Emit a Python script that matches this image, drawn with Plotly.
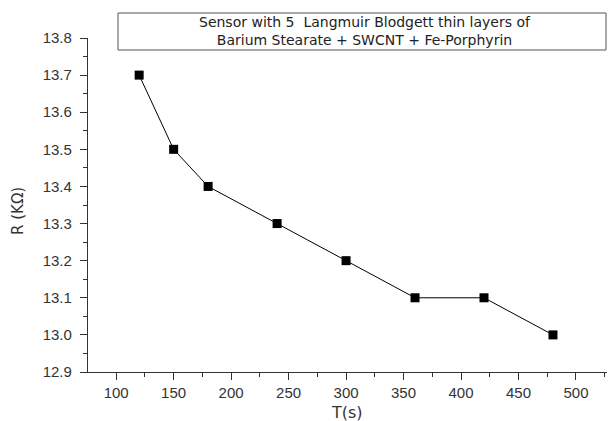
import plotly.graph_objects as go

T = [120, 150, 180, 240, 300, 360, 420, 480]
R = [13.7, 13.5, 13.4, 13.3, 13.2, 13.1, 13.1, 13.0]
title_lines = ["Sensor with 5  Langmuir Blodgett thin layers of",
               "Barium Stearate + SWCNT + Fe-Porphyrin"]

L, RGT, TOP, BOT = 88, 607, 38, 372
W, H = 608, 421
pw, ph = RGT - L, BOT - TOP

def px(x):
    return (x - L) / pw

def py(y):
    return (BOT - y) / ph

fig = go.Figure()
fig.add_trace(go.Scatter(
    x=T, y=R, mode="lines+markers",
    line=dict(color="black", width=1),
    marker=dict(symbol="square", size=9, color="black"),
    showlegend=False,
))

font = dict(family="Liberation Sans, Arial, sans-serif", size=15, color="#333333")
wide = "DejaVu Sans, Verdana, sans-serif"

fig.update_layout(
    width=W, height=H,
    margin=dict(l=L, r=W - RGT, t=TOP, b=H - BOT, autoexpand=False),
    paper_bgcolor="white", plot_bgcolor="white",
    font=font,
    xaxis=dict(
        range=[75.5, 527], tickvals=[100, 150, 200, 250, 300, 350, 400, 450, 500],
        ticks="outside", ticklen=7, tickwidth=1.2, tickcolor="#333",
        showline=True, linecolor="#333", linewidth=1.2, showgrid=False, zeroline=False,
        minor=dict(tickvals=[125, 175, 225, 275, 325, 375, 425, 475, 525], ticks="outside", ticklen=4, tickcolor="#333"),
        automargin=False,
    ),
    yaxis=dict(
        range=[12.9, 13.8], tickvals=[12.9, 13.0, 13.1, 13.2, 13.3, 13.4, 13.5, 13.6, 13.7, 13.8],
        tickformat=".1f", ticklabelstandoff=5,
        ticks="outside", ticklen=7, tickwidth=1.2, tickcolor="#333",
        showline=True, linecolor="#333", linewidth=1.2, showgrid=False, zeroline=False,
        minor=dict(tickvals=[12.95, 13.05, 13.15, 13.25, 13.35, 13.45, 13.55, 13.65, 13.75], ticks="outside", ticklen=4, tickcolor="#333"),
        automargin=False,
    ),
)

fig.add_annotation(xref="paper", yref="paper", x=px(347), y=py(412), xanchor="center", yanchor="middle",
                   showarrow=False, text="T(s)", font=dict(family=wide, size=16, color="#333"))
fig.add_annotation(xref="paper", yref="paper", x=px(18), y=py(211), xanchor="center", yanchor="middle",
                   showarrow=False, text="R (KΩ)", textangle=-90, font=dict(family=wide, size=15, color="#333"))

fig.add_shape(type="rect", xref="paper", yref="paper",
              x0=px(118), x1=px(606), y0=py(50), y1=py(13),
              line=dict(color="#555", width=1), fillcolor="white")
fig.add_annotation(xref="paper", yref="paper", x=px(365), y=py(31.5), xanchor="center", yanchor="middle",
                   showarrow=False, text="<br>".join(title_lines), align="center",
                   font=dict(family=wide, size=14, color="#222"))

fig.write_html("out.html", config={"displayModeBar": False},
               post_script="document.body.style.margin='0';document.body.style.overflow='hidden';")
